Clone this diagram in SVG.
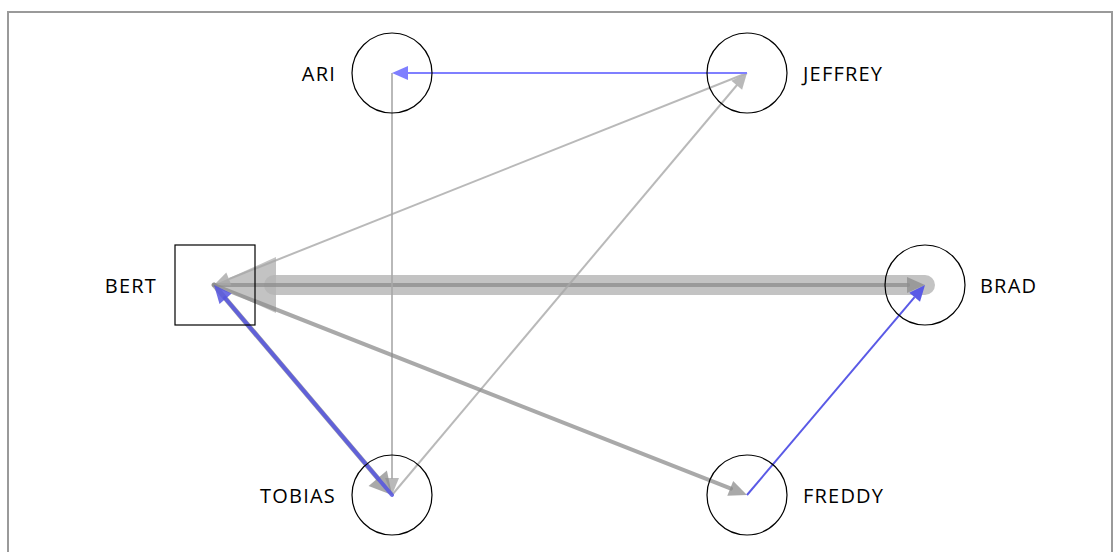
<svg xmlns="http://www.w3.org/2000/svg" width="1120" height="552" viewBox="0 0 1120 552">
  <style>
    .frame { fill: #ffffff; stroke: #9a9a9a; stroke-width: 2; }
    .node { fill: none; stroke: #000000; stroke-width: 1.2; }
    .label { font-family: "Open Sans", "Liberation Sans", sans-serif; font-size: 20px; letter-spacing: 1.2px; fill: #000000; }
    .gray-thin { stroke: #a8a8a8; stroke-opacity: 0.8; stroke-width: 2; fill: none; }
    .gray-thin-head { fill: #a8a8a8; fill-opacity: 0.8; }
    .gray-mid { stroke: #8c8c8c; stroke-opacity: 0.75; stroke-width: 4; fill: none; stroke-linecap: round; }
    .gray-mid-head { fill: #8c8c8c; fill-opacity: 0.75; }
    .gray-wide { stroke: #b4b4b4; stroke-opacity: 0.8; stroke-width: 20; fill: none; stroke-linecap: round; }
    .gray-wide-head { fill: #b4b4b4; fill-opacity: 0.8; }
    .blue-light { stroke: #7f7fff; stroke-width: 2; fill: none; }
    .blue-light-head { fill: #7f7fff; }
    .blue { stroke: #5a5ae6; stroke-width: 2; fill: none; }
    .blue-head { fill: #5a5ae6; }
    .blue-thick { stroke: #5555e0; stroke-opacity: 0.85; stroke-width: 4; fill: none; stroke-linecap: round; }
    .blue-thick-head { fill: #5555e0; fill-opacity: 0.85; }
  </style>

  <rect class="frame" x="8" y="12" width="1104" height="560"/>

  <g id="connectors">
    <!-- BRAD -> BERT, heavy band -->
    <g id="edge-brad-bert">
      <line class="gray-wide" x1="925" y1="285" x2="274" y2="285"/>
      <polygon class="gray-wide-head" points="214,285 276,257 276,313"/>
    </g>
    <!-- BERT -> BRAD -->
    <g id="edge-bert-brad">
      <line class="gray-mid" x1="214" y1="285" x2="908" y2="285"/>
      <polygon class="gray-mid-head" points="925,285 907,277 907,293"/>
    </g>
    <!-- JEFFREY -> BERT -->
    <g id="edge-jeffrey-bert">
      <line class="gray-thin" x1="747" y1="73" x2="229" y2="279"/>
      <polygon class="gray-thin-head" points="214,285 226.3,272.6 231.5,285.6"/>
    </g>
    <!-- TOBIAS -> JEFFREY -->
    <g id="edge-tobias-jeffrey">
      <line class="gray-thin" x1="392" y1="495" x2="737" y2="85"/>
      <polygon class="gray-thin-head" points="747,73 742.1,89.7 731.4,80.7"/>
    </g>
    <!-- ARI -> TOBIAS -->
    <g id="edge-ari-tobias">
      <line class="gray-thin" x1="392" y1="73" x2="392" y2="479"/>
      <polygon class="gray-thin-head" points="392,495 399,478 385,478"/>
    </g>
    <!-- JEFFREY -> ARI -->
    <g id="edge-jeffrey-ari">
      <line class="blue-light" x1="747" y1="73" x2="408" y2="73"/>
      <polygon class="blue-light-head" points="392,73 408,66 408,80"/>
    </g>
    <!-- BERT -> FREDDY -->
    <g id="edge-bert-freddy">
      <line class="gray-mid" x1="214" y1="285" x2="731" y2="488.6"/>
      <polygon class="gray-mid-head" points="747,495 727.3,495.8 733.2,481"/>
    </g>
    <!-- FREDDY -> BRAD -->
    <g id="edge-freddy-brad">
      <line class="blue" x1="747" y1="495" x2="914.6" y2="297.2"/>
      <polygon class="blue-head" points="925,285 920,301.7 909.3,292.7"/>
    </g>
    <!-- BERT -> TOBIAS -->
    <g id="edge-bert-tobias">
      <line class="gray-mid" style="stroke-width:5" x1="214" y1="285" x2="378" y2="478.5"/>
      <polygon class="gray-mid-head" points="392,495 368.6,486 386.9,470.4"/>
    </g>
    <!-- TOBIAS -> BERT -->
    <g id="edge-tobias-bert">
      <line class="blue-thick" x1="392" y1="495" x2="225" y2="298"/>
      <polygon class="blue-thick-head" points="214,285 231.7,293.6 219.5,303.9"/>
    </g>
  </g>

  <g id="node-ari">
    <circle class="node" cx="392" cy="73" r="40"/>
    <text class="label" x="336" y="81" text-anchor="end">ARI</text>
  </g>
  <g id="node-jeffrey">
    <circle class="node" cx="747" cy="73" r="40"/>
    <text class="label" x="803" y="81">JEFFREY</text>
  </g>
  <g id="node-bert">
    <rect class="node" x="175" y="245" width="80" height="80"/>
    <text class="label" x="157" y="293" text-anchor="end">BERT</text>
  </g>
  <g id="node-brad">
    <circle class="node" cx="925" cy="285" r="40"/>
    <text class="label" x="980" y="293">BRAD</text>
  </g>
  <g id="node-tobias">
    <circle class="node" cx="392" cy="495" r="40"/>
    <text class="label" x="336" y="503" text-anchor="end">TOBIAS</text>
  </g>
  <g id="node-freddy">
    <circle class="node" cx="747" cy="495" r="40"/>
    <text class="label" x="803" y="503">FREDDY</text>
  </g>
</svg>
